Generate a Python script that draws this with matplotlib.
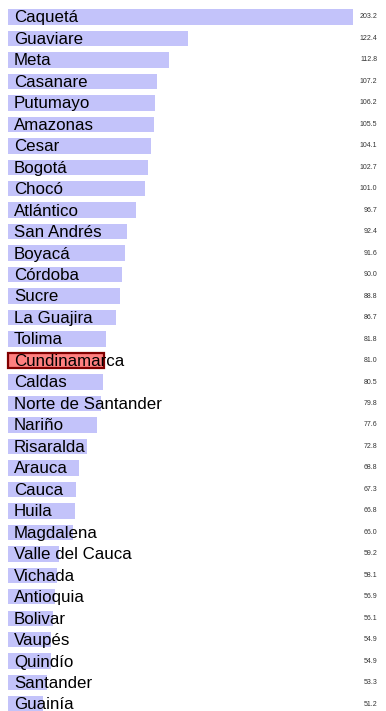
import matplotlib
matplotlib.use("Agg")
import matplotlib.pyplot as plt
from matplotlib.transforms import blended_transform_factory

departments = ["Caquetá", "Guaviare", "Meta", "Casanare", "Putumayo", "Amazonas",
               "Cesar", "Bogotá", "Chocó", "Atlántico", "San Andrés", "Boyacá",
               "Córdoba", "Sucre", "La Guajira", "Tolima", "Cundinamarca", "Caldas",
               "Norte de Santander", "Nariño", "Risaralda", "Arauca", "Cauca", "Huila",
               "Magdalena", "Valle del Cauca", "Vichada", "Antioquia", "Bolivar",
               "Vaupés", "Quindío", "Santander", "Guainía"]
rates = [203.2, 122.4, 112.8, 107.2, 106.2, 105.5, 104.1, 102.7, 101.0, 96.7,
         92.4, 91.6, 90.0, 88.8, 86.7, 81.8, 81.0, 80.5, 79.8, 77.6, 72.8, 68.8,
         67.3, 66.8, 66.0, 59.2, 58.1, 56.9, 56.1, 54.9, 54.9, 53.3, 51.2]
highlight = "Cundinamarca"
base = 34  # bars start from this value, not from zero

plt.rcParams["font.family"] = ["Liberation Sans", "DejaVu Sans"]

fig = plt.figure(figsize=(3.86, 7.11), dpi=100)
ax = fig.add_axes([0, 0, 1, 1])

rows = list(range(len(departments)))
colors = ["#ff8080" if d == highlight else "#c3c3fa" for d in departments]
edges = ["#800000" if d == highlight else "none" for d in departments]
widths = [1.6 if d == highlight else 0 for d in departments]
ax.barh(rows, [r - base for r in rates], left=base, height=0.72,
        color=colors, edgecolor=edges, linewidth=widths)

trans = blended_transform_factory(ax.transAxes, ax.transData)
for i, (name, val) in enumerate(zip(departments, rates)):
    ax.text(0.036, i + 0.04, name, transform=trans, ha="left", va="center",
            fontsize=12.2)
    ax.text(0.977, i, f"{val:.1f}", transform=trans, ha="right", va="center",
            fontsize=5, color="#333333")

ax.set_xlim(30.08, 219.3)
ax.set_ylim(32.32, -0.79)
ax.axis("off")

fig.savefig("out.png", dpi=100)
